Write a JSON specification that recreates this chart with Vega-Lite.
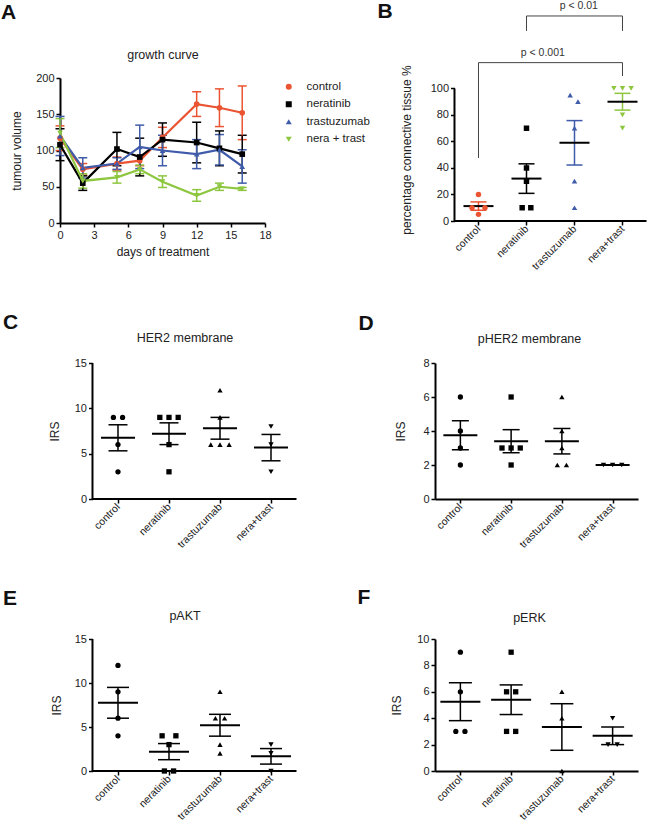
{
  "$schema": "https://vega.github.io/schema/vega-lite/v6.json",
  "autosize": {"type": "pad"},
  "padding": {"left": 1, "top": 0, "right": 0, "bottom": 0},
  "background": "white",
  "config": {
    "font": "Liberation Sans",
    "view": {"stroke": null},
    "axis": {"grid": false, "domainColor": "#000", "domainWidth": 2, "tickColor": "#000", "tickWidth": 1.5, "tickSize": 4, "labelFontSize": 11, "labelColor": "#222", "labelPadding": 2, "labelFlush": false, "labelOverlap": false, "titleFontSize": 12, "titleFontWeight": "normal", "titleColor": "#222"}
  },
  "datasets": {
    "growth": [
      {"day": 0, "grp": "control", "m": 117, "e": 17}, {"day": 2, "grp": "control", "m": 74, "e": 8}, {"day": 5, "grp": "control", "m": 82, "e": 9}, {"day": 7, "grp": "control", "m": 86, "e": 7}, {"day": 9, "grp": "control", "m": 118, "e": 14}, {"day": 12, "grp": "control", "m": 164, "e": 17}, {"day": 14, "grp": "control", "m": 159, "e": 26}, {"day": 16, "grp": "control", "m": 152, "e": 37},
      {"day": 0, "grp": "neratinib", "m": 108, "e": 22}, {"day": 2, "grp": "neratinib", "m": 55, "e": 10}, {"day": 5, "grp": "neratinib", "m": 102, "e": 23}, {"day": 7, "grp": "neratinib", "m": 91, "e": 26}, {"day": 9, "grp": "neratinib", "m": 115, "e": 23}, {"day": 12, "grp": "neratinib", "m": 111, "e": 28}, {"day": 14, "grp": "neratinib", "m": 103, "e": 24}, {"day": 16, "grp": "neratinib", "m": 95, "e": 26},
      {"day": 0, "grp": "trastuzumab", "m": 120, "e": 27}, {"day": 2, "grp": "trastuzumab", "m": 76, "e": 14}, {"day": 5, "grp": "trastuzumab", "m": 82, "e": 8}, {"day": 7, "grp": "trastuzumab", "m": 105, "e": 30}, {"day": 9, "grp": "trastuzumab", "m": 100, "e": 21}, {"day": 12, "grp": "trastuzumab", "m": 95, "e": 20}, {"day": 14, "grp": "trastuzumab", "m": 101, "e": 21}, {"day": 16, "grp": "trastuzumab", "m": 78, "e": 23},
      {"day": 0, "grp": "nera + trast", "m": 124, "e": 20}, {"day": 2, "grp": "nera + trast", "m": 58, "e": 10}, {"day": 5, "grp": "nera + trast", "m": 63, "e": 8}, {"day": 7, "grp": "nera + trast", "m": 74, "e": 6}, {"day": 9, "grp": "nera + trast", "m": 57, "e": 8}, {"day": 12, "grp": "nera + trast", "m": 38, "e": 8}, {"day": 14, "grp": "nera + trast", "m": 50, "e": 5}, {"day": 16, "grp": "nera + trast", "m": 47, "e": 2}
    ],
    "pct": [
      {"grp": "control", "g": 1, "v": 20, "s": 0}, {"grp": "control", "g": 1, "v": 10, "s": -0.75}, {"grp": "control", "g": 1, "v": 10, "s": 0.75}, {"grp": "control", "g": 1, "v": 5, "s": 0},
      {"grp": "neratinib", "g": 2, "v": 70, "s": 0}, {"grp": "neratinib", "g": 2, "v": 40, "s": 0}, {"grp": "neratinib", "g": 2, "v": 30, "s": 0}, {"grp": "neratinib", "g": 2, "v": 10, "s": -0.5}, {"grp": "neratinib", "g": 2, "v": 10, "s": 0.5},
      {"grp": "trastuzumab", "g": 3, "v": 95, "s": -0.5}, {"grp": "trastuzumab", "g": 3, "v": 90, "s": 0.4}, {"grp": "trastuzumab", "g": 3, "v": 70, "s": 0}, {"grp": "trastuzumab", "g": 3, "v": 30, "s": 0}, {"grp": "trastuzumab", "g": 3, "v": 10, "s": 0},
      {"grp": "nera + trast", "g": 4, "v": 100, "s": -1}, {"grp": "nera + trast", "g": 4, "v": 100, "s": 0}, {"grp": "nera + trast", "g": 4, "v": 100, "s": 1}, {"grp": "nera + trast", "g": 4, "v": 80, "s": 0}, {"grp": "nera + trast", "g": 4, "v": 70, "s": 0}
    ],
    "irs": [
      {"p": "C", "grp": "control", "g": 1, "v": 9, "s": -0.5}, {"p": "C", "grp": "control", "g": 1, "v": 9, "s": 0.5}, {"p": "C", "grp": "control", "g": 1, "v": 6, "s": 0}, {"p": "C", "grp": "control", "g": 1, "v": 3, "s": 0},
      {"p": "C", "grp": "neratinib", "g": 2, "v": 9, "s": -1}, {"p": "C", "grp": "neratinib", "g": 2, "v": 9, "s": 0}, {"p": "C", "grp": "neratinib", "g": 2, "v": 9, "s": 1}, {"p": "C", "grp": "neratinib", "g": 2, "v": 6, "s": 0}, {"p": "C", "grp": "neratinib", "g": 2, "v": 3, "s": 0},
      {"p": "C", "grp": "trastuzumab", "g": 3, "v": 12, "s": 0}, {"p": "C", "grp": "trastuzumab", "g": 3, "v": 9, "s": 0}, {"p": "C", "grp": "trastuzumab", "g": 3, "v": 6, "s": -1}, {"p": "C", "grp": "trastuzumab", "g": 3, "v": 6, "s": 0}, {"p": "C", "grp": "trastuzumab", "g": 3, "v": 6, "s": 1},
      {"p": "C", "grp": "nera + trast", "g": 4, "v": 8, "s": 0}, {"p": "C", "grp": "nera + trast", "g": 4, "v": 6, "s": 0}, {"p": "C", "grp": "nera + trast", "g": 4, "v": 3, "s": 0},
      {"p": "D", "grp": "control", "g": 1, "v": 6, "s": 0}, {"p": "D", "grp": "control", "g": 1, "v": 4, "s": 0}, {"p": "D", "grp": "control", "g": 1, "v": 3, "s": 0}, {"p": "D", "grp": "control", "g": 1, "v": 2, "s": 0},
      {"p": "D", "grp": "neratinib", "g": 2, "v": 6, "s": 0}, {"p": "D", "grp": "neratinib", "g": 2, "v": 3, "s": -1}, {"p": "D", "grp": "neratinib", "g": 2, "v": 3, "s": 0}, {"p": "D", "grp": "neratinib", "g": 2, "v": 3, "s": 1}, {"p": "D", "grp": "neratinib", "g": 2, "v": 2, "s": 0},
      {"p": "D", "grp": "trastuzumab", "g": 3, "v": 6, "s": 0}, {"p": "D", "grp": "trastuzumab", "g": 3, "v": 4, "s": 0}, {"p": "D", "grp": "trastuzumab", "g": 3, "v": 3, "s": 0}, {"p": "D", "grp": "trastuzumab", "g": 3, "v": 2, "s": -0.5}, {"p": "D", "grp": "trastuzumab", "g": 3, "v": 2, "s": 0.5},
      {"p": "D", "grp": "nera + trast", "g": 4, "v": 2, "s": -1}, {"p": "D", "grp": "nera + trast", "g": 4, "v": 2, "s": 0}, {"p": "D", "grp": "nera + trast", "g": 4, "v": 2, "s": 1},
      {"p": "E", "grp": "control", "g": 1, "v": 12, "s": 0}, {"p": "E", "grp": "control", "g": 1, "v": 9, "s": 0}, {"p": "E", "grp": "control", "g": 1, "v": 6, "s": 0}, {"p": "E", "grp": "control", "g": 1, "v": 4, "s": 0},
      {"p": "E", "grp": "neratinib", "g": 2, "v": 4, "s": -0.75}, {"p": "E", "grp": "neratinib", "g": 2, "v": 4, "s": 0.75}, {"p": "E", "grp": "neratinib", "g": 2, "v": 3, "s": 0}, {"p": "E", "grp": "neratinib", "g": 2, "v": 0, "s": -0.5}, {"p": "E", "grp": "neratinib", "g": 2, "v": 0, "s": 0.5},
      {"p": "E", "grp": "trastuzumab", "g": 3, "v": 9, "s": 0}, {"p": "E", "grp": "trastuzumab", "g": 3, "v": 6, "s": -0.5}, {"p": "E", "grp": "trastuzumab", "g": 3, "v": 6, "s": 0.5}, {"p": "E", "grp": "trastuzumab", "g": 3, "v": 3, "s": 0}, {"p": "E", "grp": "trastuzumab", "g": 3, "v": 2, "s": 0},
      {"p": "E", "grp": "nera + trast", "g": 4, "v": 3, "s": 0}, {"p": "E", "grp": "nera + trast", "g": 4, "v": 2, "s": 0}, {"p": "E", "grp": "nera + trast", "g": 4, "v": 0, "s": 0},
      {"p": "F", "grp": "control", "g": 1, "v": 9, "s": 0}, {"p": "F", "grp": "control", "g": 1, "v": 6, "s": 0}, {"p": "F", "grp": "control", "g": 1, "v": 3, "s": -0.5}, {"p": "F", "grp": "control", "g": 1, "v": 3, "s": 0.5},
      {"p": "F", "grp": "neratinib", "g": 2, "v": 9, "s": 0}, {"p": "F", "grp": "neratinib", "g": 2, "v": 6, "s": -0.5}, {"p": "F", "grp": "neratinib", "g": 2, "v": 6, "s": 0.5}, {"p": "F", "grp": "neratinib", "g": 2, "v": 3, "s": -0.5}, {"p": "F", "grp": "neratinib", "g": 2, "v": 3, "s": 0.5},
      {"p": "F", "grp": "trastuzumab", "g": 3, "v": 6, "s": 0}, {"p": "F", "grp": "trastuzumab", "g": 3, "v": 4, "s": 0}, {"p": "F", "grp": "trastuzumab", "g": 3, "v": 0, "s": 0},
      {"p": "F", "grp": "nera + trast", "g": 4, "v": 4, "s": 0}, {"p": "F", "grp": "nera + trast", "g": 4, "v": 2, "s": -0.5}, {"p": "F", "grp": "nera + trast", "g": 4, "v": 2, "s": 0.5}
    ]
  },
  "columns": 2,
  "bounds": "flush",
  "align": "each",
  "spacing": {"row": 140, "column": 138},
  "resolve": {"scale": {"color": "independent", "shape": "independent"}},
  "concat": [
    {
      "width": 205, "height": 145,
      "data": {"name": "growth"},
      "layer": [
        {"mark": {"type": "errorbar", "ticks": {"size": 9, "opacity": 1}, "thickness": 1.5},
         "encoding": {
           "x": {"field": "day", "type": "quantitative", "scale": {"domain": [0, 18], "nice": false}, "axis": {"values": [0, 3, 6, 9, 12, 15, 18], "tickCount": 20, "format": "d", "title": "days of treatment", "titlePadding": 6}},
           "y": {"field": "m", "type": "quantitative", "scale": {"domain": [0, 200], "nice": false}, "axis": {"values": [0, 50, 100, 150, 200], "tickCount": 20, "format": "d", "title": "tumour volume", "titlePadding": 12}},
           "yError": {"field": "e"},
           "color": {"field": "grp", "type": "nominal", "scale": {"domain": ["control", "neratinib", "trastuzumab", "nera + trast"], "range": ["#eb5432", "#000000", "#3f5ba9", "#8dc63f"]}}
         }},
        {"mark": {"type": "line", "strokeWidth": 2.2},
         "encoding": {"x": {"field": "day", "type": "quantitative"}, "y": {"field": "m", "type": "quantitative"}, "color": {"field": "grp", "type": "nominal"}}},
        {"mark": {"type": "point", "filled": true, "size": 32, "opacity": 1},
         "encoding": {
           "x": {"field": "day", "type": "quantitative"}, "y": {"field": "m", "type": "quantitative"},
           "color": {"field": "grp", "type": "nominal", "legend": {"orient": "none", "legendX": 223, "legendY": 3, "title": null, "labelFontSize": 11.5, "labelColor": "#222", "symbolSize": 36, "rowPadding": 4.5, "labelOffset": 12, "padding": 0, "symbolStrokeWidth": 0}},
           "shape": {"field": "grp", "type": "nominal", "scale": {"domain": ["control", "neratinib", "trastuzumab", "nera + trast"], "range": ["circle", "square", "triangle-up", "triangle-down"]}, "legend": {"orient": "none", "legendX": 223, "legendY": 3, "title": null, "labelFontSize": 11.5, "labelColor": "#222", "symbolSize": 36, "rowPadding": 4.5, "labelOffset": 12, "padding": 0, "symbolStrokeWidth": 0}}
         }},
        {"data": {"values": [{}]}, "mark": {"type": "text", "text": "A", "fontSize": 21, "fontWeight": "bold", "align": "left", "baseline": "middle", "color": "#111"},
         "encoding": {"x": {"datum": -5.18}, "y": {"datum": 289}}},
        {"data": {"values": [{}]}, "mark": {"type": "text", "text": "growth curve", "fontSize": 12.5, "align": "center", "baseline": "middle", "color": "#222"},
         "encoding": {"x": {"datum": 9.04}, "y": {"datum": 231.7}}}
      ]
    },
    {
      "width": 211.5, "height": 143,
      "data": {"name": "pct"},
      "transform": [{"calculate": "datum.g + datum.s * 0.18", "as": "xp"}],
      "layer": [
        {"mark": {"type": "errorbar", "extent": "stderr", "orient": "vertical", "ticks": {"size": 16, "opacity": 1}, "thickness": 1.5},
         "encoding": {
           "x": {"field": "g", "type": "quantitative", "scale": {"domain": [0.094, 4.5], "nice": false, "zero": false}, "axis": {"values": [1, 2, 3, 4], "tickCount": 20, "labelExpr": "['','control','neratinib','trastuzumab','nera+trast'][datum.value]", "labelAngle": -45, "labelAlign": "right", "labelBaseline": "middle", "labelFontSize": 10.5, "domain": false, "title": null}},
           "y": {"field": "v", "type": "quantitative", "scale": {"domain": [0, 107.9], "nice": false}, "axis": {"values": [0, 20, 40, 60, 80, 100], "tickCount": 20, "format": "d", "offset": -19.5, "domain": false, "title": "percentage connective tissue %", "titlePadding": 17}},
           "color": {"field": "grp", "type": "nominal", "scale": {"domain": ["control", "neratinib", "trastuzumab", "nera + trast"], "range": ["#eb5432", "#000000", "#3f5ba9", "#8dc63f"]}, "legend": null}
         }},
        {"mark": {"type": "tick", "orient": "horizontal", "size": 30, "thickness": 2, "color": "#000", "opacity": 1},
         "encoding": {"x": {"field": "g", "type": "quantitative"}, "y": {"aggregate": "mean", "field": "v", "type": "quantitative"}}},
        {"mark": {"type": "point", "filled": true, "size": 30, "opacity": 1},
         "encoding": {
           "x": {"field": "xp", "type": "quantitative"}, "y": {"field": "v", "type": "quantitative"},
           "color": {"field": "grp", "type": "nominal", "legend": null},
           "shape": {"field": "grp", "type": "nominal", "scale": {"domain": ["control", "neratinib", "trastuzumab", "nera + trast"], "range": ["circle", "square", "triangle-up", "triangle-down"]}, "legend": null}
         }},
        {"data": {"values": [{}]}, "mark": {"type": "rule", "strokeWidth": 2, "color": "#000"}, "encoding": {"x": {"datum": 0.5}, "y": {"datum": 0}, "y2": {"datum": 100}}},
        {"data": {"values": [{}]}, "mark": {"type": "rule", "strokeWidth": 2, "color": "#000"}, "encoding": {"y": {"datum": 0}, "x": {"datum": 0.5}, "x2": {"datum": 4.5}}},
        {"data": {"values": [{}]}, "mark": {"type": "rule", "strokeWidth": 1, "color": "#444"}, "encoding": {"y": {"datum": 119.5}, "x": {"datum": 1}, "x2": {"datum": 4}}},
        {"data": {"values": [{}]}, "mark": {"type": "rule", "strokeWidth": 1, "color": "#444"}, "encoding": {"x": {"datum": 1}, "y": {"datum": 47.5}, "y2": {"datum": 119.5}}},
        {"data": {"values": [{}]}, "mark": {"type": "rule", "strokeWidth": 1, "color": "#444"}, "encoding": {"x": {"datum": 4}, "y": {"datum": 109.4}, "y2": {"datum": 119.5}}},
        {"data": {"values": [{}]}, "mark": {"type": "rule", "strokeWidth": 1, "color": "#444"}, "encoding": {"y": {"datum": 154.7}, "x": {"datum": 2}, "x2": {"datum": 4}}},
        {"data": {"values": [{}]}, "mark": {"type": "rule", "strokeWidth": 1, "color": "#444"}, "encoding": {"x": {"datum": 2}, "y": {"datum": 143.4}, "y2": {"datum": 154.7}}},
        {"data": {"values": [{}]}, "mark": {"type": "rule", "strokeWidth": 1, "color": "#444"}, "encoding": {"x": {"datum": 4}, "y": {"datum": 143.4}, "y2": {"datum": 154.7}}},
        {"data": {"values": [{}]}, "mark": {"type": "text", "text": "p < 0.001", "fontSize": 10.5, "align": "center", "baseline": "middle", "color": "#333"}, "encoding": {"x": {"datum": 2.34}, "y": {"datum": 126.4}}},
        {"data": {"values": [{}]}, "mark": {"type": "text", "text": "p < 0.01", "fontSize": 10.5, "align": "center", "baseline": "middle", "color": "#333"}, "encoding": {"x": {"datum": 3.09}, "y": {"datum": 162.3}}},
        {"data": {"values": [{}]}, "mark": {"type": "text", "text": "B", "fontSize": 21, "fontWeight": "bold", "align": "left", "baseline": "middle", "color": "#111"}, "encoding": {"x": {"datum": -1.104}, "y": {"datum": 157.7}}}
      ]
    },
    {
      "width": 236.5, "height": 136,
      "data": {"name": "irs"},
      "transform": [{"filter": "datum.p == 'C'"}, {"calculate": "datum.g + datum.s * 0.18", "as": "xp"}],
      "layer": [
        {"mark": {"type": "errorbar", "extent": "stderr", "orient": "vertical", "ticks": {"size": 19, "opacity": 1}, "thickness": 1.5, "color": "#000"},
         "encoding": {
           "x": {"field": "g", "type": "quantitative", "scale": {"domain": [-0.137, 4.5], "nice": false, "zero": false}, "axis": {"values": [1, 2, 3, 4], "tickCount": 20, "labelExpr": "['','control','neratinib','trastuzumab','nera+trast'][datum.value]", "labelAngle": -45, "labelAlign": "right", "labelBaseline": "middle", "labelFontSize": 10.5, "domain": false, "title": null}},
           "y": {"field": "v", "type": "quantitative", "scale": {"domain": [0, 15], "nice": false}, "axis": {"values": [0, 5, 10, 15], "tickCount": 20, "format": "d", "offset": -32.5, "domain": false, "title": "IRS", "titlePadding": 13}}
         }},
        {"mark": {"type": "tick", "orient": "horizontal", "size": 34, "thickness": 2, "color": "#000", "opacity": 1},
         "encoding": {"x": {"field": "g", "type": "quantitative"}, "y": {"aggregate": "mean", "field": "v", "type": "quantitative"}}},
        {"mark": {"type": "point", "filled": true, "size": 28, "opacity": 1, "color": "#000"},
         "encoding": {"x": {"field": "xp", "type": "quantitative"}, "y": {"field": "v", "type": "quantitative"},
           "shape": {"field": "grp", "type": "nominal", "scale": {"domain": ["control", "neratinib", "trastuzumab", "nera + trast"], "range": ["circle", "square", "triangle-up", "triangle-down"]}, "legend": null}}},
        {"data": {"values": [{}]}, "mark": {"type": "rule", "strokeWidth": 2, "color": "#000"}, "encoding": {"x": {"datum": 0.5}, "y": {"datum": 0}, "y2": {"datum": 15}}},
        {"data": {"values": [{}]}, "mark": {"type": "rule", "strokeWidth": 2, "color": "#000"}, "encoding": {"y": {"datum": 0}, "x": {"datum": 0.5}, "x2": {"datum": 4.5}}},
        {"data": {"values": [{}]}, "mark": {"type": "text", "text": "C", "fontSize": 21, "fontWeight": "bold", "align": "left", "baseline": "middle", "color": "#111"}, "encoding": {"x": {"datum": -1.255}, "y": {"datum": 19.36}}},
        {"data": {"values": [{}]}, "mark": {"type": "text", "text": "HER2 membrane", "fontSize": 12.5, "align": "center", "baseline": "middle", "color": "#222"}, "encoding": {"x": {"datum": 2.314}, "y": {"datum": 17.76}}}
      ]
    },
    {
      "width": 203, "height": 136,
      "data": {"name": "irs"},
      "transform": [{"filter": "datum.p == 'D'"}, {"calculate": "datum.g + datum.s * 0.18", "as": "xp"}],
      "layer": [
        {"mark": {"type": "errorbar", "extent": "stderr", "orient": "vertical", "ticks": {"size": 17, "opacity": 1}, "thickness": 1.5, "color": "#000"},
         "encoding": {
           "x": {"field": "g", "type": "quantitative", "scale": {"domain": [0.5, 4.5], "nice": false, "zero": false}, "axis": {"values": [1, 2, 3, 4], "tickCount": 20, "labelExpr": "['','control','neratinib','trastuzumab','nera+trast'][datum.value]", "labelAngle": -45, "labelAlign": "right", "labelBaseline": "middle", "labelFontSize": 10.5, "title": null}},
           "y": {"field": "v", "type": "quantitative", "scale": {"domain": [0, 8], "nice": false}, "axis": {"values": [0, 2, 4, 6, 8], "tickCount": 20, "format": "d", "title": "IRS", "titlePadding": 15}}
         }},
        {"mark": {"type": "tick", "orient": "horizontal", "size": 34, "thickness": 2, "color": "#000", "opacity": 1},
         "encoding": {"x": {"field": "g", "type": "quantitative"}, "y": {"aggregate": "mean", "field": "v", "type": "quantitative"}}},
        {"mark": {"type": "point", "filled": true, "size": 28, "opacity": 1, "color": "#000"},
         "encoding": {"x": {"field": "xp", "type": "quantitative"}, "y": {"field": "v", "type": "quantitative"},
           "shape": {"field": "grp", "type": "nominal", "scale": {"domain": ["control", "neratinib", "trastuzumab", "nera + trast"], "range": ["circle", "square", "triangle-up", "triangle-down"]}, "legend": null}}},
        {"data": {"values": [{}]}, "mark": {"type": "text", "text": "D", "fontSize": 21, "fontWeight": "bold", "align": "left", "baseline": "middle", "color": "#111"}, "encoding": {"x": {"datum": -1.007}, "y": {"datum": 10.32}}},
        {"data": {"values": [{}]}, "mark": {"type": "text", "text": "pHER2 membrane", "fontSize": 12.5, "align": "center", "baseline": "middle", "color": "#222"}, "encoding": {"x": {"datum": 2.362}, "y": {"datum": 9.41}}}
      ]
    },
    {
      "width": 236.5, "height": 132,
      "data": {"name": "irs"},
      "transform": [{"filter": "datum.p == 'E'"}, {"calculate": "datum.g + datum.s * 0.18", "as": "xp"}],
      "layer": [
        {"mark": {"type": "errorbar", "extent": "stderr", "orient": "vertical", "ticks": {"size": 22, "opacity": 1}, "thickness": 1.5, "color": "#000"},
         "encoding": {
           "x": {"field": "g", "type": "quantitative", "scale": {"domain": [-0.137, 4.5], "nice": false, "zero": false}, "axis": {"values": [1, 2, 3, 4], "tickCount": 20, "labelExpr": "['','control','neratinib','trastuzumab','nera+trast'][datum.value]", "labelAngle": -45, "labelAlign": "right", "labelBaseline": "middle", "labelFontSize": 10.5, "domain": false, "title": null}},
           "y": {"field": "v", "type": "quantitative", "scale": {"domain": [0, 15], "nice": false}, "axis": {"values": [0, 5, 10, 15], "tickCount": 20, "format": "d", "offset": -32.5, "domain": false, "title": "IRS", "titlePadding": 11}}
         }},
        {"mark": {"type": "tick", "orient": "horizontal", "size": 40, "thickness": 2, "color": "#000", "opacity": 1},
         "encoding": {"x": {"field": "g", "type": "quantitative"}, "y": {"aggregate": "mean", "field": "v", "type": "quantitative"}}},
        {"mark": {"type": "point", "filled": true, "size": 28, "opacity": 1, "color": "#000"},
         "encoding": {"x": {"field": "xp", "type": "quantitative"}, "y": {"field": "v", "type": "quantitative"},
           "shape": {"field": "grp", "type": "nominal", "scale": {"domain": ["control", "neratinib", "trastuzumab", "nera + trast"], "range": ["circle", "square", "triangle-up", "triangle-down"]}, "legend": null}}},
        {"data": {"values": [{}]}, "mark": {"type": "rule", "strokeWidth": 2, "color": "#000"}, "encoding": {"x": {"datum": 0.5}, "y": {"datum": 0}, "y2": {"datum": 15}}},
        {"data": {"values": [{}]}, "mark": {"type": "rule", "strokeWidth": 2, "color": "#000"}, "encoding": {"y": {"datum": 0}, "x": {"datum": 0.5}, "x2": {"datum": 4.5}}},
        {"data": {"values": [{}]}, "mark": {"type": "text", "text": "E", "fontSize": 21, "fontWeight": "bold", "align": "left", "baseline": "middle", "color": "#111"}, "encoding": {"x": {"datum": -1.255}, "y": {"datum": 19.6}}},
        {"data": {"values": [{}]}, "mark": {"type": "text", "text": "pAKT", "fontSize": 12.5, "align": "center", "baseline": "middle", "color": "#222"}, "encoding": {"x": {"datum": 2.314}, "y": {"datum": 17.6}}}
      ]
    },
    {
      "width": 203, "height": 132,
      "data": {"name": "irs"},
      "transform": [{"filter": "datum.p == 'F'"}, {"calculate": "datum.g + datum.s * 0.18", "as": "xp"}],
      "layer": [
        {"mark": {"type": "errorbar", "extent": "stderr", "orient": "vertical", "ticks": {"size": 23, "opacity": 1}, "thickness": 1.5, "color": "#000"},
         "encoding": {
           "x": {"field": "g", "type": "quantitative", "scale": {"domain": [0.5, 4.5], "nice": false, "zero": false}, "axis": {"values": [1, 2, 3, 4], "tickCount": 20, "labelExpr": "['','control','neratinib','trastuzumab','nera+trast'][datum.value]", "labelAngle": -45, "labelAlign": "right", "labelBaseline": "middle", "labelFontSize": 10.5, "title": null}},
           "y": {"field": "v", "type": "quantitative", "scale": {"domain": [0, 10], "nice": false}, "axis": {"values": [0, 2, 4, 6, 8, 10], "tickCount": 20, "format": "d", "title": "IRS", "titlePadding": 13}}
         }},
        {"mark": {"type": "tick", "orient": "horizontal", "size": 40, "thickness": 2, "color": "#000", "opacity": 1},
         "encoding": {"x": {"field": "g", "type": "quantitative"}, "y": {"aggregate": "mean", "field": "v", "type": "quantitative"}}},
        {"mark": {"type": "point", "filled": true, "size": 28, "opacity": 1, "color": "#000"},
         "encoding": {"x": {"field": "xp", "type": "quantitative"}, "y": {"field": "v", "type": "quantitative"},
           "shape": {"field": "grp", "type": "nominal", "scale": {"domain": ["control", "neratinib", "trastuzumab", "nera + trast"], "range": ["circle", "square", "triangle-up", "triangle-down"]}, "legend": null}}},
        {"data": {"values": [{}]}, "mark": {"type": "text", "text": "F", "fontSize": 21, "fontWeight": "bold", "align": "left", "baseline": "middle", "color": "#111"}, "encoding": {"x": {"datum": -1.027}, "y": {"datum": 13.07}}},
        {"data": {"values": [{}]}, "mark": {"type": "text", "text": "pERK", "fontSize": 12.5, "align": "center", "baseline": "middle", "color": "#222"}, "encoding": {"x": {"datum": 2.362}, "y": {"datum": 11.59}}}
      ]
    }
  ]
}
